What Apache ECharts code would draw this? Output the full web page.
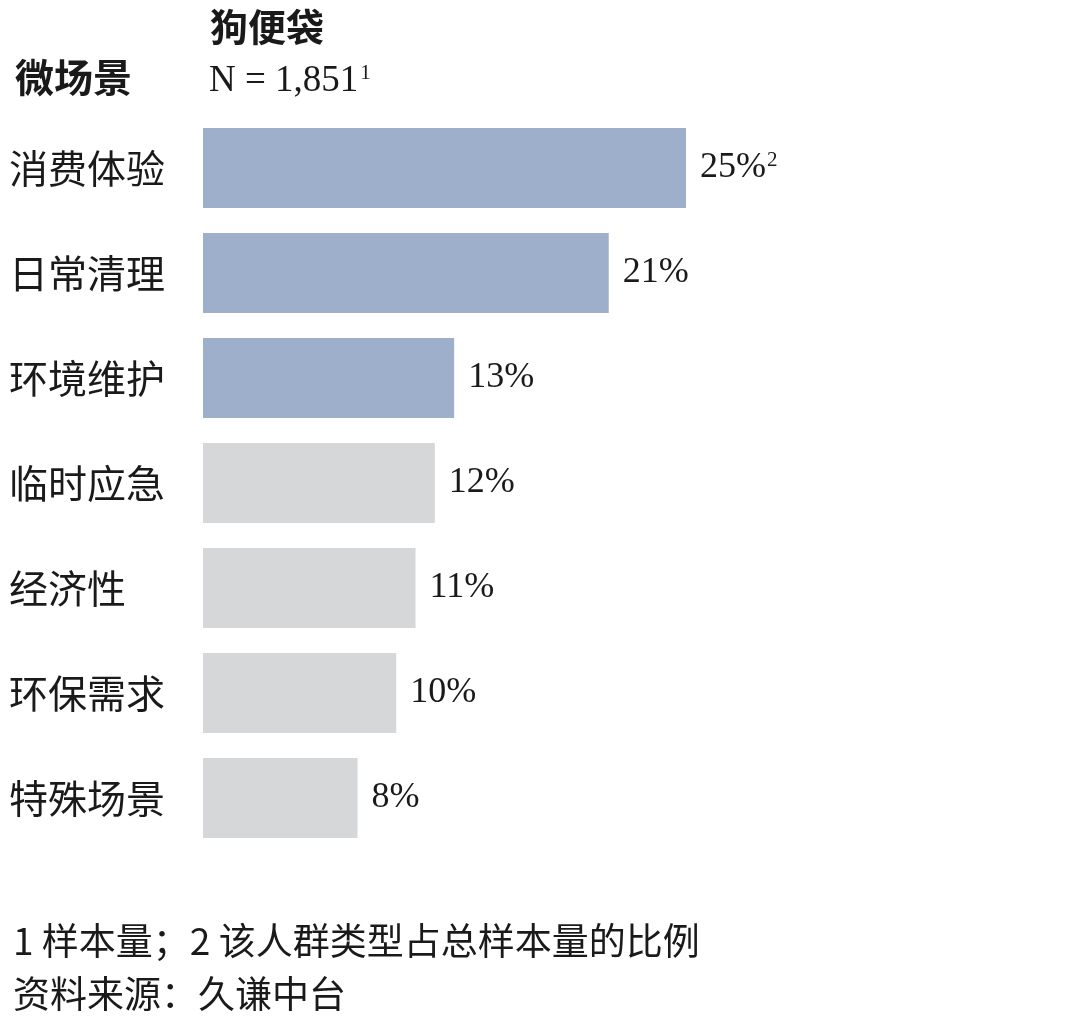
<!DOCTYPE html>
<html>
<head>
<meta charset="utf-8">
<script src="https://cdn.jsdelivr.net/npm/echarts@6/dist/echarts.min.js"></script>
<style>
html, body { margin: 0; padding: 0; background: #fff; }
#main { width: 1080px; height: 1029px; }
</style>
</head>
<body>
<div id="main"></div>
<script>
var categorias = ['消费体验', '日常清理', '环境维护', '临时应急', '经济性', '环保需求', '特殊场景'];
var valores = [25, 21, 13, 12, 11, 10, 8];
var destacados = 3; // primeras barras en azul
var notas = ['2', '', '', '', '', '', ''];

var azul = '#9eafcc';
var gris = '#d6d7d9';
var fuenteCJK = '"Noto Sans CJK SC", sans-serif';
var fuenteNum = '"Liberation Serif", "Noto Sans CJK SC", serif';

var myChart = echarts.init(document.getElementById('main'));

var datos = valores.map(function (v, i) {
    return {
        value: v,
        itemStyle: { color: i < destacados ? azul : gris }
    };
});

var option = {
    backgroundColor: '#fff',
    animation: false,
    title: [{
        text: '狗便袋',
        left: 205,
        top: 3,
        textStyle: { fontFamily: fuenteCJK, fontSize: 38, fontWeight: 'bold', color: '#1a1a1a' }
    }, {
        text: '微场景',
        left: 10,
        top: 53,
        textStyle: { fontFamily: fuenteCJK, fontSize: 39, fontWeight: 'bold', color: '#1a1a1a' }
    }, {
        text: '{n|N = 1,851}{s|1}',
        left: 204,
        top: 58,
        textStyle: {
            fontWeight: 'normal',
            rich: {
                n: { fontFamily: fuenteNum, fontSize: 37, fontWeight: 'normal', color: '#1a1a1a' },
                s: { fontFamily: fuenteNum, fontSize: 21, fontWeight: 'normal', color: '#1a1a1a', verticalAlign: 'top', padding: [0, 0, 14, 2] }
            }
        }
    }, {
        text: '1 样本量；2 该人群类型占总样本量的比例',
        left: 8,
        top: 917,
        textStyle: { fontFamily: fuenteCJK, fontSize: 37, fontWeight: 'normal', color: '#1a1a1a' }
    }, {
        text: '资料来源：久谦中台',
        left: 8,
        top: 970,
        textStyle: { fontFamily: fuenteCJK, fontSize: 37, fontWeight: 'normal', color: '#1a1a1a' }
    }],
    grid: {
        left: 203,
        right: 394,
        top: 115.5,
        bottom: 178.5,
        containLabel: false
    },
    xAxis: {
        type: 'value',
        min: 0,
        max: 25,
        show: false
    },
    yAxis: {
        type: 'category',
        inverse: true,
        data: categorias,
        axisLine: { show: false },
        axisTick: { show: false },
        splitLine: { show: false },
        axisLabel: {
            align: 'left',
            margin: 194,
            fontFamily: fuenteCJK,
            fontSize: 39,
            color: '#1a1a1a'
        }
    },
    series: [{
        type: 'bar',
        data: datos,
        barWidth: 80,
        label: {
            show: true,
            position: 'right',
            distance: 14,
            formatter: function (p) {
                var s = '{v|' + p.value + '%}';
                if (notas[p.dataIndex]) s += '{s|' + notas[p.dataIndex] + '}';
                return s;
            },
            rich: {
                v: { fontFamily: fuenteNum, fontSize: 36, color: '#1a1a1a' },
                s: { fontFamily: fuenteNum, fontSize: 21, color: '#1a1a1a', verticalAlign: 'top', padding: [0, 0, 14, 1] }
            }
        }
    }]
};

myChart.setOption(option, true);
</script>
</body>
</html>
